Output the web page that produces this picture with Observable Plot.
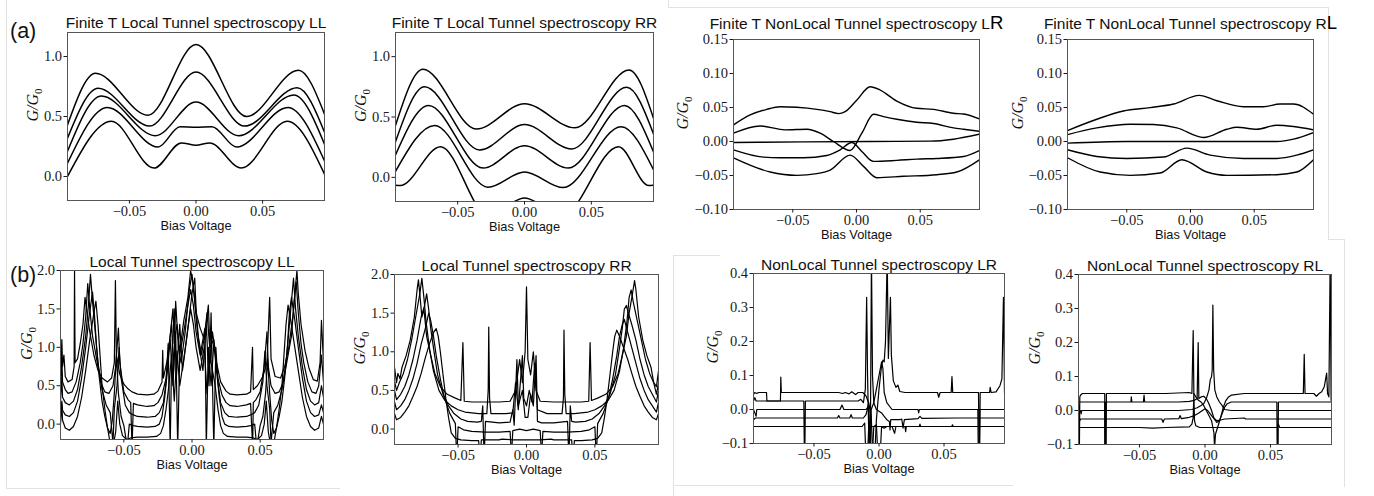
<!DOCTYPE html>
<html><head><meta charset="utf-8">
<script src="https://cdn.jsdelivr.net/npm/d3@7"></script>
<script src="https://cdn.jsdelivr.net/npm/@observablehq/plot@0.6"></script>
<style>
body{margin:0;background:#fff;}
#fig{position:relative;width:1374px;height:496px;overflow:hidden;background:#fff;}
#fig svg{position:absolute;overflow:visible;}
.edge{position:absolute;background:#e2e2e2;}
.tag{position:absolute;font-family:"Liberation Sans",Arial,sans-serif;font-size:21.5px;line-height:22px;color:#111;}
</style></head><body><div id="fig"></div>
<script>
// ---------- shared axis values ----------
const X_DOMAIN = [-0.0965, 0.0965];
const X_TICKS = [-0.05, 0, 0.05];

// ---------- (a) Finite T Local LL ----------
const fLL1 = [[-0.0965,0.43],[-0.0755,0.86],[-0.036,0.51],[0,1.10],[0.038,0.50],[0.077,0.885],[0.0965,0.52]];
const fLL2 = [[-0.0965,0.32],[-0.0735,0.735],[-0.0348,0.42],[0,0.87],[0.0365,0.42],[0.076,0.74],[0.0965,0.37]];
const fLL3 = [[-0.0965,0.21],[-0.071,0.67],[-0.0305,0.34],[0,0.62],[0.032,0.34],[0.0735,0.68],[0.0965,0.27]];
const fLL4 = [[-0.0965,0.11],[-0.0665,0.575],[-0.0285,0.245],[-0.012,0.415],[0,0.41],[0.012,0.415],[0.0305,0.245],[0.069,0.575],[0.0965,0.13]];
const fLL5 = [[-0.0965,0.0],[-0.0635,0.46],[-0.0315,0.07],[-0.011,0.28],[0,0.26],[0.0103,0.28],[0.034,0.07],[0.0685,0.46],[0.0965,0.02]];

// ---------- (a) Finite T Local RR ----------
const fRR1 = [[-0.0965,0.43],[-0.076,0.896],[-0.036,0.40],[0,0.61],[0.0378,0.41],[0.0783,0.89],[0.0965,0.49]];
const fRR2 = [[-0.0965,0.295],[-0.0748,0.75],[-0.0335,0.227],[0,0.437],[0.0353,0.235],[0.0765,0.746],[0.0965,0.36]];
const fRR3 = [[-0.0965,0.186],[-0.0718,0.596],[-0.031,0.077],[0,0.262],[0.0328,0.077],[0.0748,0.596],[0.0965,0.21]];
const fRR4 = [[-0.0965,0.049],[-0.0673,0.43],[-0.0273,-0.082],[0,0.045],[0.029,-0.085],[0.0723,0.42],[0.0965,0.063]];
const fRR5 = [[-0.0965,-0.066],[-0.093,-0.068],[-0.0628,0.254],[-0.027,-0.32],[0,-0.17],[0.028,-0.32],[0.0703,0.254],[0.093,-0.068],[0.0965,-0.066]];

// ---------- (a) Finite T NonLocal LR ----------
const fLR1 = [[-0.0965,0.0244],[-0.0834,0.039],[-0.0704,0.0473],[-0.0599,0.0512],[-0.0468,0.0503],[-0.0311,0.0473],[-0.0207,0.0439],[-0.0141,0.041],[-0.0089,0.0439],[0.0003,0.061],[0.0107,0.0805],[0.0186,0.0756],[0.0316,0.0595],[0.0473,0.0488],[0.0604,0.0473],[0.0761,0.0415],[0.084,0.0405],[0.0965,0.0332]];
const fLR2 = [[-0.0965,0.0122],[-0.0756,0.0229],[-0.056,0.0171],[-0.039,0.018],[-0.0285,0.0122],[-0.0181,0.0],[-0.005,-0.0132],[0.0042,0.0122],[0.0133,0.04],[0.0212,0.0366],[0.0316,0.0327],[0.0473,0.0283],[0.0604,0.0264],[0.0761,0.02],[0.084,0.018],[0.0965,0.0151]];
const fLR3 = [[-0.0965,-0.0015],[-0.0416,-0.0005],[0.0107,0.0],[0.0578,0.0005],[0.0761,0.0034],[0.0965,0.0107]];
const fLR4 = [[-0.0965,-0.0122],[-0.073,-0.023],[-0.0599,-0.024],[-0.0416,-0.024],[-0.0233,-0.0205],[-0.0128,-0.0122],[-0.0037,-0.0015],[0.0042,-0.0146],[0.0133,-0.0293],[0.0316,-0.0278],[0.0473,-0.0259],[0.063,-0.0249],[0.084,-0.022],[0.0965,-0.0132]];
const fLR5 = [[-0.0965,-0.024],[-0.0677,-0.0449],[-0.0468,-0.0498],[-0.0311,-0.0473],[-0.0207,-0.042],[-0.005,-0.02],[0.0055,-0.0366],[0.016,-0.0532],[0.0369,-0.0512],[0.063,-0.0488],[0.0787,-0.0449],[0.0965,-0.0268]];

// ---------- (a) Finite T NonLocal RL ----------
const fRL1 = [[-0.0965,0.0161],[-0.0735,0.0327],[-0.0526,0.0449],[-0.0316,0.0498],[-0.0133,0.0551],[0.0068,0.0678],[0.0207,0.06],[0.0416,0.0512],[0.0573,0.0512],[0.0703,0.0551],[0.0808,0.0551],[0.0965,0.04]];
const fRL2 = [[-0.0965,0.0102],[-0.0735,0.02],[-0.0473,0.0254],[-0.029,0.0249],[-0.0107,0.02],[0.0102,0.0059],[0.0285,0.018],[0.0363,0.021],[0.052,0.018],[0.0677,0.0239],[0.0808,0.022],[0.0965,0.0171]];
const fRL3 = [[-0.0965,-0.0024],[-0.05,0.0],[0.0677,0.0],[0.0808,0.0034],[0.0965,0.0132]];
const fRL4 = [[-0.0965,-0.0122],[-0.0735,-0.022],[-0.05,-0.0249],[-0.0212,-0.0229],[-0.0029,-0.0098],[0.0154,-0.02],[0.0416,-0.0249],[0.0677,-0.0249],[0.0834,-0.02],[0.0965,-0.0122]];
const fRL5 = [[-0.0965,-0.0239],[-0.0709,-0.0449],[-0.0473,-0.0498],[-0.0238,-0.0464],[-0.0068,-0.0268],[0.0128,-0.0449],[0.0285,-0.0498],[0.0677,-0.0488],[0.0834,-0.0449],[0.0965,-0.0268]];

// ---------- (b) Local LL ----------
const bLL1 = [[-0.0965,0.6],[-0.0955,1.1],[-0.095,0.75],[-0.094,0.9],[-0.093,0.62],[-0.091,0.55],[-0.088,0.58],[-0.0865,0.75],[-0.0862,2.0],[-0.0858,0.8],[-0.084,0.85],[-0.082,1.05],[-0.08,1.3],[-0.0785,1.65],[-0.077,1.45],[-0.075,1.2],[-0.072,0.9],[-0.069,0.7],[-0.066,0.6],[-0.062,0.55],[-0.059,0.6],[-0.057,0.8],[-0.0562,1.87],[-0.0555,0.9],[-0.053,0.65],[-0.05,0.52],[-0.047,0.46],[-0.044,0.42],[-0.04,0.39],[-0.033,0.38],[-0.028,0.39],[-0.025,0.43],[-0.022,0.55],[-0.0215,0.96],[-0.021,0.6],[-0.018,0.85],[-0.016,1.15],[-0.014,1.5],[-0.013,1.05],[-0.011,1.3],[-0.009,0.95],[-0.006,1.35],[-0.003,1.65],[-0.001,2.0],[0.001,1.8],[0.003,1.45],[0.006,1.25],[0.009,1.1],[0.011,1.45],[0.013,1.0],[0.016,1.1],[0.018,0.8],[0.021,0.55],[0.025,0.43],[0.028,0.39],[0.033,0.38],[0.04,0.39],[0.043,0.42],[0.0444,1.0],[0.045,0.45],[0.048,0.5],[0.052,0.62],[0.055,0.8],[0.057,1.65],[0.058,0.85],[0.061,0.62],[0.065,0.6],[0.068,0.75],[0.071,1.0],[0.074,1.4],[0.076,1.8],[0.077,2.0],[0.078,1.7],[0.08,1.3],[0.083,0.95],[0.086,0.72],[0.089,0.58],[0.092,0.56],[0.094,0.8],[0.095,1.35],[0.0965,0.8]];
const bLL2 = [[-0.0965,0.45],[-0.0955,0.85],[-0.095,0.55],[-0.093,0.45],[-0.091,0.4],[-0.088,0.42],[-0.085,0.55],[-0.082,0.8],[-0.08,1.05],[-0.078,1.4],[-0.0765,1.83],[-0.075,1.5],[-0.073,1.15],[-0.07,0.85],[-0.067,0.55],[-0.064,0.42],[-0.061,0.4],[-0.058,0.5],[-0.056,0.75],[-0.054,1.25],[-0.053,0.8],[-0.05,0.42],[-0.047,0.32],[-0.045,0.28],[-0.044,-0.3],[-0.043,0.27],[-0.04,0.25],[-0.033,0.23],[-0.028,0.24],[-0.025,0.28],[-0.022,0.38],[-0.019,0.6],[-0.017,1.0],[-0.015,1.3],[-0.0135,0.7],[-0.012,1.6],[-0.01,1.0],[-0.008,0.8],[-0.005,1.2],[-0.002,1.75],[0.0,1.95],[0.002,1.6],[0.004,1.2],[0.007,0.9],[0.01,1.25],[0.012,1.55],[0.0135,0.8],[0.015,1.2],[0.017,0.95],[0.019,0.6],[0.022,0.38],[0.025,0.28],[0.028,0.24],[0.033,0.23],[0.04,0.25],[0.043,0.27],[0.0445,-0.3],[0.045,0.28],[0.047,0.32],[0.05,0.42],[0.053,0.75],[0.055,1.2],[0.056,0.75],[0.058,0.5],[0.061,0.4],[0.064,0.42],[0.067,0.55],[0.07,0.85],[0.073,1.15],[0.075,1.6],[0.0765,1.85],[0.078,1.45],[0.08,1.05],[0.082,0.8],[0.085,0.55],[0.088,0.42],[0.091,0.4],[0.093,0.5],[0.095,0.9],[0.0965,0.55]];
const bLL3 = [[-0.0965,0.3],[-0.0955,0.6],[-0.095,0.35],[-0.093,0.28],[-0.09,0.25],[-0.087,0.3],[-0.084,0.45],[-0.081,0.75],[-0.078,1.15],[-0.076,1.55],[-0.0745,1.95],[-0.073,1.6],[-0.071,1.2],[-0.069,0.8],[-0.066,0.45],[-0.063,0.25],[-0.06,0.15],[-0.058,-0.25],[-0.057,0.2],[-0.055,0.5],[-0.0535,1.0],[-0.052,0.6],[-0.049,0.25],[-0.046,0.15],[-0.043,0.12],[-0.04,0.1],[-0.033,0.09],[-0.027,0.1],[-0.024,0.15],[-0.021,0.28],[-0.019,0.55],[-0.0175,1.05],[-0.016,-0.3],[-0.015,0.8],[-0.013,1.5],[-0.0115,0.6],[-0.009,1.3],[-0.007,0.7],[-0.004,1.1],[-0.002,1.4],[0.0,1.7],[0.002,1.9],[0.003,1.5],[0.005,1.05],[0.008,0.7],[0.0105,1.3],[0.0125,0.5],[0.014,1.45],[0.016,-0.3],[0.0175,1.0],[0.019,0.55],[0.021,0.28],[0.024,0.15],[0.027,0.1],[0.033,0.09],[0.04,0.1],[0.043,0.12],[0.046,0.15],[0.049,0.25],[0.052,0.55],[0.0535,0.95],[0.055,0.5],[0.057,0.2],[0.058,-0.25],[0.06,0.15],[0.063,0.25],[0.066,0.45],[0.069,0.8],[0.071,1.2],[0.073,1.6],[0.0745,1.9],[0.076,1.5],[0.078,1.15],[0.081,0.75],[0.084,0.45],[0.087,0.3],[0.09,0.25],[0.093,0.28],[0.095,0.5],[0.0965,0.35]];
const bLL4 = [[-0.0965,0.15],[-0.0955,0.3],[-0.095,0.18],[-0.093,0.12],[-0.09,0.1],[-0.087,0.15],[-0.084,0.3],[-0.081,0.6],[-0.078,1.0],[-0.0755,1.4],[-0.073,1.72],[-0.0715,1.4],[-0.07,1.0],[-0.068,0.6],[-0.066,0.3],[-0.064,0.1],[-0.062,-0.05],[-0.06,-0.12],[-0.0585,0.05],[-0.057,0.4],[-0.0555,0.9],[-0.054,0.4],[-0.052,0.1],[-0.05,-0.02],[-0.0475,-0.3],[-0.046,0.0],[-0.043,-0.02],[-0.04,-0.03],[-0.033,-0.04],[-0.027,-0.03],[-0.024,0.0],[-0.022,0.1],[-0.02,0.35],[-0.018,0.7],[-0.016,1.1],[-0.014,0.5],[-0.012,1.2],[-0.0105,-0.3],[-0.009,0.9],[-0.006,1.2],[-0.003,1.55],[-0.001,1.75],[0.001,1.55],[0.003,1.2],[0.006,0.9],[0.0095,1.25],[0.0105,-0.3],[0.012,1.0],[0.014,0.5],[0.016,1.05],[0.018,0.7],[0.02,0.35],[0.022,0.1],[0.024,0.0],[0.027,-0.03],[0.033,-0.04],[0.04,-0.03],[0.043,-0.02],[0.046,0.0],[0.0475,-0.3],[0.05,-0.02],[0.052,0.1],[0.054,0.4],[0.0555,0.85],[0.057,0.4],[0.0585,0.05],[0.06,-0.12],[0.062,-0.05],[0.064,0.1],[0.066,0.3],[0.068,0.6],[0.07,1.0],[0.0715,1.45],[0.073,1.65],[0.0755,1.35],[0.078,1.0],[0.081,0.6],[0.084,0.3],[0.087,0.15],[0.09,0.1],[0.093,0.12],[0.095,0.25],[0.0965,0.15]];
const bLL5 = [[-0.0965,0.0],[-0.0955,0.25],[-0.095,0.05],[-0.093,-0.05],[-0.09,-0.08],[-0.087,-0.03],[-0.084,0.1],[-0.081,0.35],[-0.078,0.7],[-0.075,1.1],[-0.072,1.45],[-0.0705,1.6],[-0.069,1.3],[-0.0675,0.9],[-0.066,0.5],[-0.064,0.2],[-0.062,-0.05],[-0.06,-0.25],[-0.058,-0.3],[-0.056,-0.1],[-0.0545,0.3],[-0.053,0.0],[-0.051,-0.15],[-0.048,-0.2],[-0.045,-0.18],[-0.04,-0.17],[-0.033,-0.17],[-0.026,-0.16],[-0.023,-0.12],[-0.021,-0.02],[-0.019,0.2],[-0.017,0.5],[-0.015,0.9],[-0.013,0.3],[-0.011,0.95],[-0.009,0.5],[-0.006,0.85],[-0.003,1.25],[-0.001,1.5],[0.001,1.3],[0.003,1.0],[0.006,0.7],[0.009,1.0],[0.011,0.4],[0.013,0.9],[0.015,0.7],[0.017,0.5],[0.019,0.2],[0.021,-0.02],[0.023,-0.12],[0.026,-0.16],[0.033,-0.17],[0.04,-0.17],[0.045,-0.18],[0.048,-0.2],[0.051,-0.15],[0.053,0.0],[0.0545,0.3],[0.056,-0.1],[0.058,-0.3],[0.06,-0.25],[0.062,-0.05],[0.064,0.2],[0.066,0.5],[0.0675,0.9],[0.069,1.3],[0.0705,1.55],[0.072,1.4],[0.075,1.05],[0.078,0.7],[0.081,0.35],[0.084,0.1],[0.087,-0.03],[0.09,-0.08],[0.093,-0.05],[0.095,0.1],[0.0965,0.0]];

// ---------- (b) Local RR ----------
const bRR1 = [[-0.0965,0.8],[-0.095,0.6],[-0.094,0.72],[-0.0925,0.65],[-0.091,0.8],[-0.088,0.95],[-0.085,1.15],[-0.082,1.45],[-0.08,1.8],[-0.079,1.93],[-0.078,1.75],[-0.0765,1.45],[-0.075,1.55],[-0.073,1.2],[-0.07,0.95],[-0.067,0.72],[-0.063,0.55],[-0.058,0.45],[-0.052,0.4],[-0.048,0.37],[-0.0465,1.12],[-0.0455,0.36],[-0.04,0.35],[-0.02,0.35],[-0.012,0.36],[-0.008,0.5],[-0.005,0.9],[-0.003,0.6],[-0.001,1.0],[0.0,1.84],[0.001,0.9],[0.003,0.7],[0.005,1.0],[0.007,0.5],[0.01,0.36],[0.02,0.35],[0.04,0.35],[0.0455,0.36],[0.0465,1.12],[0.0475,0.37],[0.052,0.4],[0.058,0.45],[0.063,0.55],[0.067,0.72],[0.07,0.95],[0.073,1.2],[0.075,1.5],[0.077,1.7],[0.079,1.92],[0.08,1.8],[0.082,1.45],[0.085,1.15],[0.088,0.95],[0.091,0.8],[0.093,0.6],[0.095,0.55],[0.0965,0.75]];
const bRR2 = [[-0.0965,0.62],[-0.095,0.5],[-0.093,0.6],[-0.09,0.72],[-0.087,0.9],[-0.084,1.15],[-0.081,1.45],[-0.078,1.75],[-0.0765,1.95],[-0.075,1.7],[-0.0735,1.4],[-0.071,1.05],[-0.068,0.75],[-0.064,0.5],[-0.06,0.38],[-0.055,0.3],[-0.05,0.25],[-0.045,0.22],[-0.035,0.2],[-0.029,0.2],[-0.028,0.5],[-0.0276,1.32],[-0.027,0.4],[-0.026,0.2],[-0.015,0.2],[-0.01,0.21],[-0.008,0.6],[-0.006,0.25],[-0.003,0.95],[-0.002,0.4],[0.0,0.3],[0.002,0.5],[0.004,0.35],[0.006,0.85],[0.008,0.25],[0.015,0.2],[0.026,0.2],[0.027,0.4],[0.0274,1.28],[0.028,0.45],[0.029,0.2],[0.035,0.2],[0.045,0.22],[0.05,0.25],[0.055,0.3],[0.06,0.38],[0.064,0.5],[0.068,0.75],[0.071,1.05],[0.0735,1.4],[0.075,1.7],[0.0765,1.8],[0.078,1.65],[0.081,1.4],[0.084,1.15],[0.087,0.9],[0.09,0.72],[0.093,0.6],[0.095,0.45],[0.0965,0.6]];
const bRR3 = [[-0.0965,0.5],[-0.095,0.38],[-0.092,0.45],[-0.089,0.55],[-0.086,0.7],[-0.083,0.9],[-0.08,1.15],[-0.077,1.45],[-0.0745,1.6],[-0.073,1.75],[-0.0715,1.55],[-0.07,1.3],[-0.068,1.05],[-0.065,0.7],[-0.061,0.45],[-0.057,0.3],[-0.053,0.2],[-0.048,0.13],[-0.043,0.1],[-0.036,0.09],[-0.033,0.1],[-0.032,0.3],[-0.031,-0.4],[-0.03,0.1],[-0.02,0.08],[-0.012,0.09],[-0.01,0.25],[-0.009,0.05],[-0.007,0.9],[-0.006,0.3],[-0.003,0.5],[-0.001,0.15],[0.001,0.15],[0.003,0.45],[0.005,0.3],[0.007,0.95],[0.008,0.1],[0.011,0.08],[0.02,0.08],[0.03,0.1],[0.031,-0.4],[0.032,0.3],[0.033,0.1],[0.036,0.09],[0.043,0.1],[0.048,0.13],[0.053,0.2],[0.057,0.3],[0.061,0.45],[0.065,0.7],[0.068,1.05],[0.07,1.3],[0.0715,1.55],[0.073,1.6],[0.0745,1.5],[0.077,1.35],[0.08,1.15],[0.083,0.9],[0.086,0.7],[0.089,0.55],[0.092,0.45],[0.095,0.35],[0.0965,0.5]];
const bRR4 = [[-0.0965,0.35],[-0.095,0.25],[-0.092,0.3],[-0.089,0.38],[-0.086,0.5],[-0.083,0.65],[-0.08,0.85],[-0.077,1.1],[-0.074,1.3],[-0.0715,1.5],[-0.07,1.4],[-0.068,1.2],[-0.066,0.95],[-0.063,0.65],[-0.06,0.4],[-0.056,0.2],[-0.052,0.07],[-0.051,-0.4],[-0.05,0.03],[-0.046,-0.01],[-0.04,-0.03],[-0.03,-0.04],[-0.02,-0.04],[-0.012,-0.03],[-0.011,-0.35],[-0.01,-0.02],[-0.005,0.0],[0.0,-0.02],[0.005,0.0],[0.01,-0.02],[0.011,-0.35],[0.012,-0.03],[0.02,-0.04],[0.03,-0.04],[0.04,-0.03],[0.046,-0.01],[0.05,0.03],[0.051,-0.4],[0.052,0.07],[0.056,0.2],[0.06,0.4],[0.063,0.65],[0.066,0.95],[0.068,1.2],[0.07,1.35],[0.0715,1.42],[0.074,1.25],[0.077,1.05],[0.08,0.85],[0.083,0.65],[0.086,0.5],[0.089,0.38],[0.092,0.3],[0.095,0.22],[0.0965,0.35]];
const bRR5 = [[-0.0965,0.2],[-0.095,0.12],[-0.092,0.15],[-0.089,0.22],[-0.086,0.3],[-0.083,0.42],[-0.08,0.55],[-0.077,0.72],[-0.074,0.92],[-0.071,1.1],[-0.068,1.25],[-0.066,1.3],[-0.0645,1.2],[-0.063,1.0],[-0.061,0.7],[-0.059,0.4],[-0.057,0.15],[-0.055,-0.05],[-0.052,-0.12],[-0.048,-0.14],[-0.04,-0.15],[-0.035,-0.15],[-0.034,-0.4],[-0.033,-0.14],[-0.02,-0.14],[-0.018,-0.13],[-0.01,-0.14],[0.0,-0.14],[0.01,-0.14],[0.018,-0.13],[0.02,-0.14],[0.033,-0.14],[0.034,-0.4],[0.035,-0.15],[0.04,-0.15],[0.048,-0.14],[0.052,-0.12],[0.055,-0.05],[0.057,0.15],[0.059,0.4],[0.061,0.7],[0.063,1.0],[0.0645,1.2],[0.066,1.28],[0.068,1.2],[0.071,1.05],[0.074,0.9],[0.077,0.72],[0.08,0.55],[0.083,0.42],[0.086,0.3],[0.089,0.22],[0.092,0.15],[0.095,0.12],[0.0965,0.2]];

// ---------- (b) NonLocal LR ----------
const bLR1 = [[-0.0965,0.044],[-0.0955,0.05],[-0.094,0.047],[-0.0925,0.05],[-0.0865,0.05],[-0.0862,0.025],[-0.0758,0.025],[-0.0755,0.095],[-0.0751,0.05],[-0.031,0.05],[-0.028,0.047],[-0.026,0.05],[-0.023,0.046],[-0.021,0.052],[-0.018,0.044],[-0.016,0.05],[-0.0125,0.05],[-0.01,0.04],[-0.008,0.02],[-0.006,-0.02],[-0.004,-0.2],[-0.002,-0.03],[0.0,0.06],[0.002,0.13],[0.003,0.145],[0.004,0.14],[0.005,0.2],[0.0063,0.45],[0.0072,0.15],[0.0088,0.33],[0.0095,0.16],[0.011,0.085],[0.013,0.065],[0.0145,0.072],[0.016,0.053],[0.02,0.05],[0.045,0.05],[0.0459,0.036],[0.047,0.05],[0.0555,0.05],[0.0561,0.097],[0.0567,0.05],[0.0765,0.05],[0.0772,-0.2],[0.0778,0.05],[0.085,0.05],[0.0855,0.065],[0.0862,0.05],[0.09,0.052],[0.093,0.07],[0.0945,0.09],[0.0957,0.33],[0.0965,0.05]];
const bLR2 = [[-0.0965,0.025],[-0.0955,0.035],[-0.0945,0.025],[-0.0578,0.025],[-0.0572,-0.2],[-0.0566,0.025],[-0.016,0.025],[-0.014,0.03],[-0.012,0.02],[-0.0105,0.06],[-0.0095,0.33],[-0.0088,0.1],[-0.008,-0.05],[-0.0072,-0.2],[-0.0065,0.0],[-0.0058,0.45],[-0.005,0.1],[-0.004,0.02],[-0.002,0.0],[0.0,-0.005],[0.002,-0.01],[0.004,-0.02],[0.006,-0.03],[0.008,-0.035],[0.0085,-0.06],[0.009,-0.03],[0.016,-0.03],[0.0175,-0.028],[0.0185,-0.055],[0.0195,-0.03],[0.03,-0.027],[0.0315,-0.02],[0.033,-0.026],[0.06,-0.025],[0.0965,-0.025]];
const bLR3 = [[-0.0965,0.0],[-0.0955,-0.01],[-0.0945,-0.02],[-0.094,0.0],[-0.03,0.0],[-0.0285,0.013],[-0.027,0.0],[-0.01,0.0],[-0.008,0.01],[-0.007,-0.2],[-0.006,0.0],[-0.004,0.02],[-0.002,0.06],[0.0,0.1],[0.002,0.14],[0.003,0.12],[0.004,0.05],[0.006,0.02],[0.01,0.0],[0.03,0.0],[0.0305,-0.01],[0.031,0.0],[0.076,0.0],[0.0765,-0.2],[0.077,-0.2],[0.0775,0.0],[0.0965,0.0]];
const bLR4 = [[-0.0965,-0.03],[-0.095,-0.025],[-0.032,-0.025],[-0.031,-0.018],[-0.03,-0.025],[-0.0225,-0.025],[-0.0215,-0.015],[-0.0205,-0.025],[-0.012,-0.025],[-0.01,-0.015],[-0.009,0.0],[-0.008,0.02],[-0.006,-0.2],[-0.004,-0.05],[-0.002,-0.045],[0.0,-0.2],[0.002,-0.05],[0.004,-0.055],[0.006,-0.05],[0.01,-0.05],[0.012,-0.07],[0.013,-0.05],[0.031,-0.05],[0.0315,-0.043],[0.032,-0.05],[0.0965,-0.05]];
const bLR5 = [[-0.0965,-0.05],[-0.025,-0.05],[-0.013,-0.05],[-0.011,-0.04],[-0.0095,-0.2],[-0.008,-0.06],[-0.006,-0.05],[0.02,-0.05],[0.0205,-0.065],[0.021,-0.05],[0.056,-0.05],[0.0565,-0.045],[0.057,-0.05],[0.0965,-0.05]];

// ---------- (b) NonLocal RL ----------
const bRL1 = [[-0.0965,0.02],[-0.096,-0.2],[-0.0955,0.04],[-0.095,0.045],[-0.0935,0.05],[-0.0765,0.05],[-0.0762,-0.2],[-0.0755,-0.2],[-0.0752,0.05],[-0.03,0.05],[-0.012,0.053],[-0.01,0.05],[-0.009,0.235],[-0.0085,0.05],[-0.007,0.04],[-0.005,0.03],[-0.003,0.025],[-0.001,0.015],[0.001,0.0],[0.003,-0.015],[0.005,-0.03],[0.006,-0.05],[0.0068,-0.065],[0.0073,-0.11],[0.008,-0.07],[0.01,-0.045],[0.012,-0.02],[0.014,0.01],[0.016,0.03],[0.018,0.04],[0.02,0.045],[0.03,0.05],[0.075,0.05],[0.0757,0.165],[0.0763,0.05],[0.083,0.05],[0.085,0.042],[0.087,0.05],[0.089,0.055],[0.091,0.07],[0.0928,0.11],[0.0935,0.05],[0.0945,0.04],[0.0955,0.45],[0.0962,0.03]];
const bRL2 = [[-0.0965,0.025],[-0.0765,0.025],[-0.0762,-0.2],[-0.0758,0.025],[-0.0565,0.025],[-0.0562,0.04],[-0.0558,0.025],[-0.047,0.025],[-0.0465,0.045],[-0.046,0.025],[-0.02,0.025],[-0.012,0.027],[-0.008,0.03],[-0.006,0.035],[-0.0052,0.2],[-0.0047,0.035],[-0.003,0.04],[-0.001,0.042],[0.001,0.035],[0.003,0.02],[0.005,0.0],[0.007,-0.025],[0.009,-0.035],[0.011,-0.03],[0.013,-0.01],[0.015,0.01],[0.017,0.02],[0.02,0.025],[0.0548,0.025],[0.0552,-0.2],[0.0556,-0.2],[0.056,0.025],[0.0965,0.025]];
const bRL3 = [[-0.0965,0.0],[-0.095,0.0],[-0.0945,-0.01],[-0.094,0.0],[-0.02,0.0],[-0.01,0.003],[-0.006,0.008],[-0.003,0.015],[-0.001,0.02],[0.001,0.035],[0.003,0.06],[0.004,0.09],[0.005,0.1],[0.0055,0.12],[0.006,0.31],[0.0066,0.12],[0.0075,0.06],[0.009,0.04],[0.011,0.025],[0.013,0.015],[0.015,0.003],[0.02,0.0],[0.0965,0.0]];
const bRL4 = [[-0.0965,-0.025],[-0.0955,-0.03],[-0.095,-0.025],[-0.033,-0.025],[-0.032,-0.035],[-0.031,-0.025],[-0.02,-0.024],[-0.019,-0.015],[-0.018,-0.024],[-0.012,-0.02],[-0.008,-0.015],[-0.005,-0.008],[-0.002,0.0],[0.0,0.005],[0.002,0.0],[0.004,-0.01],[0.006,-0.02],[0.009,-0.03],[0.012,-0.028],[0.015,-0.025],[0.03,-0.022],[0.031,-0.025],[0.0965,-0.025]];
const bRL5 = [[-0.0965,-0.05],[-0.05,-0.05],[-0.04,-0.052],[-0.03,-0.05],[-0.012,-0.048],[-0.01,-0.04],[-0.009,-0.02],[-0.0085,0.05],[-0.008,-0.03],[-0.007,-0.045],[-0.004,-0.05],[0.055,-0.05],[0.056,-0.04],[0.057,-0.05],[0.0965,-0.05]];

// ---------- titles / labels ----------
const TITLES = [
  "Finite T Local Tunnel spectroscopy LL", "Finite T Local Tunnel spectroscopy RR",
  "Finite T NonLocal Tunnel spectroscopy LR", "Finite T NonLocal Tunnel spectroscopy RL",
  "Local Tunnel spectroscopy LL", "Local Tunnel spectroscopy RR",
  "NonLocal Tunnel spectroscopy LR", "NonLocal Tunnel spectroscopy RL"
];
const XLABEL = "Bias Voltage";
const YLABEL = "G/G0";
const TICKS_A_LOCAL = [0, 0.5, 1.0];
const TICKS_A_NONLOCAL = [-0.10, -0.05, 0, 0.05, 0.10, 0.15];
const TICKS_B_LOCAL = [0, 0.5, 1.0, 1.5, 2.0];
const TICKS_B_NONLOCAL = [-0.1, 0, 0.1, 0.2, 0.3, 0.4];

// ---------- layout (frame box in page px: left, top, right, bottom) ----------
const SERIF = '"Liberation Serif","DejaVu Serif",serif';
const SANS = '"Liberation Sans",Arial,sans-serif';
const panels = [
  {frame:[67,32,324,200], yDomain:[-0.2,1.2], yTicks:TICKS_A_LOCAL, yFmt:".1f", title:TITLES[0], curves:[fLL1,fLL2,fLL3,fLL4,fLL5], curve:"monotone-x", sw:1.5, ylabDx:-35, titleDy:-5},
  {frame:[395,32,653,201], yDomain:[-0.2,1.2], yTicks:TICKS_A_LOCAL, yFmt:".1f", title:TITLES[1], curves:[fRR1,fRR2,fRR3,fRR4,fRR5], curve:"monotone-x", sw:1.5, ylabDx:-35, titleDy:-5},
  {frame:[733,39,979,209], yDomain:[-0.1,0.15], yTicks:TICKS_A_NONLOCAL, yFmt:".2f", title:TITLES[2], special:"R", curves:[fLR1,fLR2,fLR3,fLR4,fLR5], curve:"monotone-x", sw:1.4, ylabDx:-51, titleDy:-11},
  {frame:[1067,39,1313,209], yDomain:[-0.1,0.15], yTicks:TICKS_A_NONLOCAL, yFmt:".2f", title:TITLES[3], special:"L", curves:[fRL1,fRL2,fRL3,fRL4,fRL5], curve:"monotone-x", sw:1.4, ylabDx:-50, titleDy:-11},
  {frame:[60,270,323,439], yDomain:[-0.2,2.0], yTicks:TICKS_B_LOCAL, yFmt:".1f", title:TITLES[4], curves:[bLL1,bLL2,bLL3,bLL4,bLL5], curve:"linear", sw:1.2, ylabDx:-34, titleDy:-3.5},
  {frame:[394,274,658,444], yDomain:[-0.2,2.0], yTicks:TICKS_B_LOCAL, yFmt:".1f", title:TITLES[5], curves:[bRR1,bRR2,bRR3,bRR4,bRR5], curve:"linear", sw:1.2, ylabDx:-35, titleDy:-3.5},
  {frame:[753,273,1004,443], yDomain:[-0.1,0.4], yTicks:TICKS_B_NONLOCAL, yFmt:".1f", title:TITLES[6], curves:[bLR1,bLR2,bLR3,bLR4,bLR5], curve:"linear", sw:1.2, ylabDx:-41, titleDy:-4},
  {frame:[1078,274,1331,444], yDomain:[-0.1,0.4], yTicks:TICKS_B_NONLOCAL, yFmt:".1f", title:TITLES[7], curves:[bRL1,bRL2,bRL3,bRL4,bRL5], curve:"linear", sw:1.2, ylabDx:-44, titleDy:-4}
];

const fig = document.getElementById("fig");

// faint screenshot borders of the composite figure
[[6,0,1,488],[6,488,334,1],[668,0,1,7],[668,7,660,1],[1328,7,1,232],[1328,239,17,1],[1344,239,1,248],[673,255,1,241],[673,255,47,1],[673,485,340,1]].forEach(([l,t,w,h]) => {
  const d = document.createElement("div"); d.className = "edge";
  Object.assign(d.style, {left:l+"px", top:t+"px", width:w+"px", height:h+"px"});
  fig.appendChild(d);
});

const ML = 70, MT = 40, MR = 20, MB = 45;
panels.forEach(p => {
  const [L, T, R, B] = p.frame;
  const rows = p.curves.flatMap((c, i) => c.map(([x, y]) => ({x, y, s: i})));
  const svg = Plot.plot({
    width: R - L + ML + MR, height: B - T + MT + MB,
    marginLeft: ML, marginTop: MT, marginRight: MR, marginBottom: MB,
    x: {domain: X_DOMAIN},
    y: {domain: p.yDomain},
    style: {background: "transparent", overflow: "visible", fontFamily: SERIF, fontSize: "14.5px", color: "#1a1a1a"},
    marks: [
      Plot.line(rows, {x: "x", y: "y", z: "s", stroke: "#000", strokeWidth: p.sw, curve: p.curve, clip: true}),
      Plot.frame({stroke: "#555", strokeWidth: 1}),
      Plot.axisX({ticks: X_TICKS, tickFormat: d3.format(".2f"), tickSize: 3.5, tickPadding: 2, label: null}),
      Plot.axisY({ticks: p.yTicks, tickFormat: d3.format(p.yFmt), tickSize: 3.5, tickPadding: 2, label: null}),
      Plot.text([p.title], {text: d => d, frameAnchor: "top", dy: p.titleDy, lineAnchor: "bottom", fontFamily: SANS, fontSize: 15.5, fill: "#111"}),
      Plot.text([XLABEL], {text: d => d, frameAnchor: "bottom", dy: 29.5, lineAnchor: "bottom", fontFamily: SANS, fontSize: 12.8, fill: "#111"}),
      Plot.text([YLABEL], {text: d => d, frameAnchor: "left", dx: p.ylabDx, dy: 5, rotate: -90, fontFamily: SERIF, fontStyle: "italic", fontSize: 16, fill: "#111"})
    ]
  });
  svg.style.left = (L - ML) + "px";
  svg.style.top = (T - MT) + "px";
  const NS = "http://www.w3.org/2000/svg";
  svg.querySelectorAll("text").forEach(t => {
    if (t.textContent === YLABEL) {
      t.textContent = "";
      const a = document.createElementNS(NS, "tspan"); a.textContent = "G/G";
      const b = document.createElementNS(NS, "tspan"); b.textContent = "0";
      b.setAttribute("dy", "4"); b.setAttribute("font-size", "11"); b.setAttribute("font-style", "normal");
      t.appendChild(a); t.appendChild(b);
    } else if (p.special && t.textContent === p.title) {
      t.textContent = "";
      const a = document.createElementNS(NS, "tspan"); a.textContent = p.title.slice(0, -1);
      const b = document.createElementNS(NS, "tspan"); b.textContent = p.special;
      b.setAttribute("font-size", "18.5"); b.setAttribute("font-family", SANS); b.setAttribute("fill", "#000");
      t.appendChild(a); t.appendChild(b);
    }
  });
  fig.appendChild(svg);
});

// panel tags
[["(a)", 10, 20], ["(b)", 10, 264]].forEach(([s, l, t]) => {
  const d = document.createElement("div"); d.className = "tag"; d.textContent = s;
  d.style.left = l + "px"; d.style.top = t + "px";
  fig.appendChild(d);
});
</script></body></html>
